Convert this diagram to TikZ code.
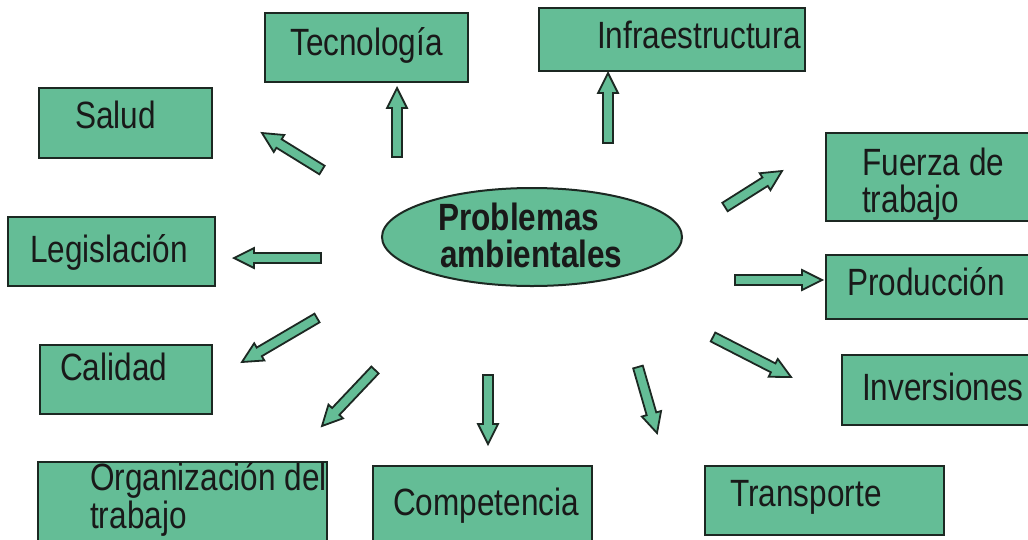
\documentclass[tikz,border=0pt]{standalone}
\usepackage{fontspec}
\newfontfamily\slidefont{Liberation Sans}[FakeStretch=0.83]
\usetikzlibrary{calc,shapes.geometric}
\definecolor{boxgreen}{RGB}{100,189,150}
\definecolor{boxline}{RGB}{28,40,34}
\newcommand\blockarrow[2]{%
  \draw[blockarrowsty] let \p1=($(#2)-(#1)$), \n1={atan2(\y1,\x1)}, \n2={veclen(\x1,\y1)} in
    ($(#1)+(\n1+90:5)$) -- ++(\n1:\n2-20) -- ++(\n1+90:5) -- (#2)
    -- ($(#2)+(\n1+180:20)+(\n1-90:10)$) -- ++(\n1+90:5) -- ($(#1)+(\n1-90:5)$) -- cycle;}
\tikzset{
  box/.style={draw=boxline, line width=1.5pt, fill=boxgreen, rectangle, inner sep=0pt},
  lbl/.style={anchor=base west, inner sep=0pt, font=\slidefont\fontsize{38}{45}\selectfont, text=black!90},
  blockarrowsty/.style={draw=boxline, line width=1.8pt, fill=boxgreen, line join=miter},
}
\begin{document}
\begin{tikzpicture}[x=1pt,y=1pt]
\useasboundingbox (0,0) rectangle (1028,-539);
\clip (0,0) rectangle (1028,-539);
\fill[white] (0,0) rectangle (1028,-539);
% boxes
\node[box, minimum width=173pt, minimum height=70pt] (salud) at (125.5,-123) {};
\node[box, minimum width=203pt, minimum height=69pt] (tec) at (366.5,-47.5) {};
\node[box, minimum width=266pt, minimum height=63pt] (infra) at (672,-39.5) {};
\node[box, minimum width=214pt, minimum height=88pt] (fuerza) at (933,-177) {};
\node[box, minimum width=207pt, minimum height=69pt] (legis) at (111.5,-251.5) {};
\node[box, minimum width=214pt, minimum height=64pt] (prod) at (933,-287) {};
\node[box, minimum width=172pt, minimum height=69pt] (calidad) at (126,-379.5) {};
\node[box, minimum width=198pt, minimum height=70pt] (inv) at (941,-390) {};
\node[box, minimum width=289pt, minimum height=88pt] (org) at (182.5,-506) {};
\node[box, minimum width=219pt, minimum height=84pt] (comp) at (482.5,-508) {};
\node[box, minimum width=239pt, minimum height=69pt] (trans) at (824.5,-500.5) {};
\node[draw=boxline, line width=2pt, fill=boxgreen, ellipse, inner sep=0pt,
      minimum width=300pt, minimum height=98pt] (prob) at (532,-237) {};
% labels
\node[lbl] (tSalud) at (75,-128) {Salud};
\node[lbl] (tTec) at (290,-55) {Tecnología};
\node[lbl] (tInfra) at (597,-48) {Infraestructura};
\node[lbl] (tFuerza1) at (862,-175) {Fuerza de};
\node[lbl] (tFuerza2) at (862,-212) {trabajo};
\node[lbl] (tLegis) at (30,-262) {Legislación};
\node[lbl] (tProd) at (847,-295) {Producción};
\node[lbl] (tCal) at (60,-380) {Calidad};
\node[lbl] (tInv) at (862,-400) {Inversiones};
\node[lbl] (tOrg1) at (90,-490) {Organización del};
\node[lbl] (tOrg2) at (90,-528) {trabajo};
\node[lbl] (tComp) at (393,-515) {Competencia};
\node[lbl] (tTrans) at (730,-506) {Transporte};
\node[lbl, font=\slidefont\bfseries\fontsize{38}{45}\selectfont] (tProb1) at (438,-230) {Problemas};
\node[lbl, font=\slidefont\bfseries\fontsize{38}{45}\selectfont] (tProb2) at (440,-267) {ambientales};
% arrow end points
\coordinate (aSaludT) at (322,-170); \coordinate (aSaludH) at (262,-133);
\coordinate (aTecT) at (397,-157);   \coordinate (aTecH) at (397,-88);
\coordinate (aInfT) at (608,-143);   \coordinate (aInfH) at (608,-73);
\coordinate (aFueT) at (725,-207);   \coordinate (aFueH) at (782,-171);
\coordinate (aLegT) at (321,-258);   \coordinate (aLegH) at (234,-258);
\coordinate (aProT) at (735,-280);   \coordinate (aProH) at (822,-280);
\coordinate (aCalT) at (317,-318);   \coordinate (aCalH) at (242,-362);
\coordinate (aInvT) at (713,-337);   \coordinate (aInvH) at (791,-377);
\coordinate (aOrgT) at (375,-370);   \coordinate (aOrgH) at (322,-426);
\coordinate (aComT) at (488,-375);   \coordinate (aComH) at (488,-444);
\coordinate (aTraT) at (638,-367);   \coordinate (aTraH) at (657,-433);
\blockarrow{aSaludT}{aSaludH}
\blockarrow{aTecT}{aTecH}
\blockarrow{aInfT}{aInfH}
\blockarrow{aFueT}{aFueH}
\blockarrow{aLegT}{aLegH}
\blockarrow{aProT}{aProH}
\blockarrow{aCalT}{aCalH}
\blockarrow{aInvT}{aInvH}
\blockarrow{aOrgT}{aOrgH}
\blockarrow{aComT}{aComH}
\blockarrow{aTraT}{aTraH}
\end{tikzpicture}
\end{document}
